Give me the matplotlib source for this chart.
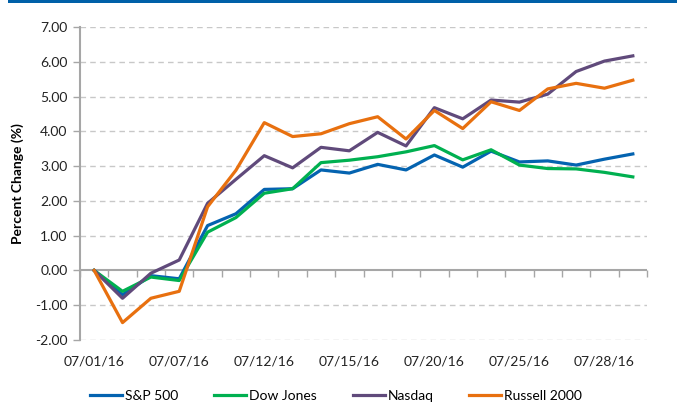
import matplotlib
matplotlib.use("Agg")
import matplotlib.pyplot as plt
import numpy as np

plt.rcParams['font.family'] = ['Lato', 'DejaVu Sans']
plt.rcParams['axes.unicode_minus'] = False

dates = ["07/01/16", "07/05/16", "07/06/16", "07/07/16", "07/08/16", "07/11/16",
         "07/12/16", "07/13/16", "07/14/16", "07/15/16", "07/18/16", "07/19/16",
         "07/20/16", "07/21/16", "07/22/16", "07/25/16", "07/26/16", "07/27/16",
         "07/28/16", "07/29/16"]
sp500 = [0.00, -0.70, -0.15, -0.24, 1.29, 1.63, 2.33, 2.35, 2.89, 2.80, 3.05, 2.89,
         3.32, 2.97, 3.43, 3.12, 3.15, 3.03, 3.20, 3.35]
dow = [0.00, -0.60, -0.19, -0.29, 1.10, 1.52, 2.22, 2.35, 3.10, 3.17, 3.27, 3.41,
       3.59, 3.18, 3.47, 3.03, 2.93, 2.92, 2.82, 2.69]
nasdaq = [0.00, -0.80, -0.08, 0.30, 1.93, 2.62, 3.30, 2.95, 3.54, 3.44, 3.97, 3.58,
          4.68, 4.36, 4.90, 4.84, 5.07, 5.72, 6.02, 6.17]
russell = [0.00, -1.50, -0.80, -0.60, 1.83, 2.88, 4.25, 3.85, 3.93, 4.22, 4.42, 3.78,
           4.60, 4.08, 4.85, 4.60, 5.22, 5.38, 5.24, 5.47]
series_names = ["S&P 500", "Dow Jones", "Nasdaq", "Russell 2000"]
colors = ["#0463B0", "#00B050", "#604A7B", "#E8700F"]
yticks = [-2, -1, 0, 1, 2, 3, 4, 5, 6, 7]

fig = plt.figure(figsize=(6.77, 4.03), dpi=100)
ax = fig.add_axes([80/677, 1-340/403, (647-80)/677, (340-27)/403])

# top blue rule
fig.add_artist(plt.Rectangle((8/677, 1-3/403), 1, 3/403, transform=fig.transFigure,
                             color="#0060A8", lw=0))

x = np.arange(len(dates))
grid_c = "#C8C8C8"
axis_c = "#A6A6A6"
for yv in yticks:
    if yv != 0:
        ax.axhline(yv, color=grid_c, lw=1.0, ls=(0, (4, 3)), zorder=1)
ax.axhline(0, color=axis_c, lw=1.5, zorder=2)

for vals, name, c in zip([sp500, dow, nasdaq, russell], series_names, colors):
    ax.plot(x, vals, color=c, lw=2.3, label=name, zorder=3, solid_joinstyle='round')

ax.set_xlim(-0.5, len(dates) - 0.5)
ax.set_ylim(-2, 7)
ax.set_yticks(yticks)
ax.set_yticklabels([f"{v:.2f}" for v in yticks], fontsize=10, color="#222222")
ax.tick_params(axis='y', length=5, width=1, color=axis_c, pad=4)

ax.set_xticks(x[::3])
ax.set_xticklabels(dates[::3], fontsize=10, color="#222222")
ax.tick_params(axis='x', length=0, pad=11)

for s in ['top', 'right', 'bottom']:
    ax.spines[s].set_visible(False)
ax.spines['left'].set_color(axis_c)
ax.spines['left'].set_linewidth(1.5)

sec = ax.secondary_xaxis(2/9)
sec.set_xticks(np.arange(-0.5, len(dates), 1.0))
sec.set_xticklabels([])
sec.tick_params(axis='x', direction='out', length=5, width=1, color=axis_c)
sec.spines['bottom'].set_visible(False)

ax.set_ylabel("Percent Change (%)", fontsize=10, fontweight='bold', labelpad=8)

fig.legend(loc='center', bbox_to_anchor=(336/677, 1-396/403), ncol=4, frameon=False,
           fontsize=10, handlelength=2.3, handletextpad=0.2, columnspacing=2.6)

fig.savefig("out.png", dpi=100)
